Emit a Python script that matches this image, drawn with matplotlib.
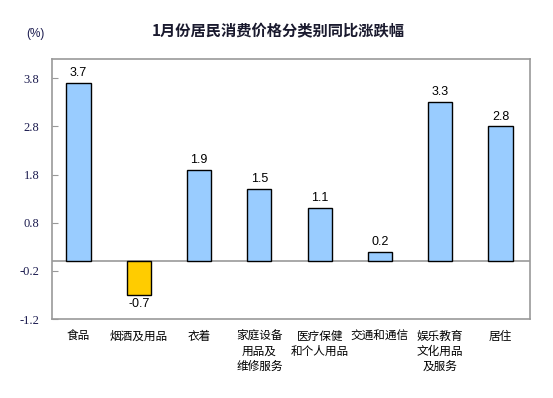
import matplotlib
matplotlib.use("Agg")
import matplotlib.pyplot as plt
import numpy as np

plt.rcParams['font.family'] = ['Noto Sans CJK SC', 'DejaVu Sans']

categories = ["食品", "烟酒及用品", "衣着", "家庭设备\n用品及\n维修服务", "医疗保健\n和个人用品",
              "交通和通信", "娱乐教育\n文化用品\n及服务", "居住"]
values = [3.7, -0.7, 1.9, 1.5, 1.1, 0.2, 3.3, 2.8]
yticks = [-1.2, -0.2, 0.8, 1.8, 2.8, 3.8]

fig = plt.figure(figsize=(5.53, 3.98), dpi=100)
ax = fig.add_axes([52/553, 1-319/398, 478/553, 260/398])

x = np.arange(len(categories))
colors = ["#FFCC00" if v < 0 else "#99CCFF" for v in values]
ax.bar(x, values, width=0.4, color=colors, edgecolor="black", linewidth=1.0, zorder=3)
ax.axhline(0, color="#999999", linewidth=1.2, zorder=2)

for xi, v in zip(x, values):
    if v >= 0:
        ax.text(xi, v + 0.08, "%.1f" % v, ha="center", va="bottom", fontsize=9,
                family="Liberation Sans")
    else:
        ax.text(xi, v - 0.06, "%.1f" % v, ha="center", va="top", fontsize=9,
                family="Liberation Sans")

ax.set_xlim(-0.44, 7.49)
ax.set_ylim(-1.2, 4.2)
ax.set_yticks(yticks)
ax.set_yticklabels(["%.1f" % t for t in yticks])
for lbl in ax.get_yticklabels():
    lbl.set_fontfamily("Liberation Serif")
    lbl.set_fontsize(9)
    lbl.set_color("#1a1a4e")
ax.tick_params(axis="y", direction="in", length=4, color="#999999", pad=9)
ax.set_xticks(x)
ax.set_xticklabels(categories, fontsize=8.4, linespacing=1.2, va="top")
ax.tick_params(axis="x", length=0, pad=8)
for s in ax.spines.values():
    s.set_color("#999999")
    s.set_linewidth(1.2)

fig.text(278/553, 1-31/398, "1月份居民消费价格分类别同比涨跌幅", ha="center", va="center",
         fontsize=11, fontweight="bold", color="#1a1a2e")
fig.text(35/553, 1-34/398, "(%)", ha="center", va="center", fontsize=8.5,
         family="Liberation Sans", color="#1a1a4e")

fig.savefig("out.png", dpi=100)
